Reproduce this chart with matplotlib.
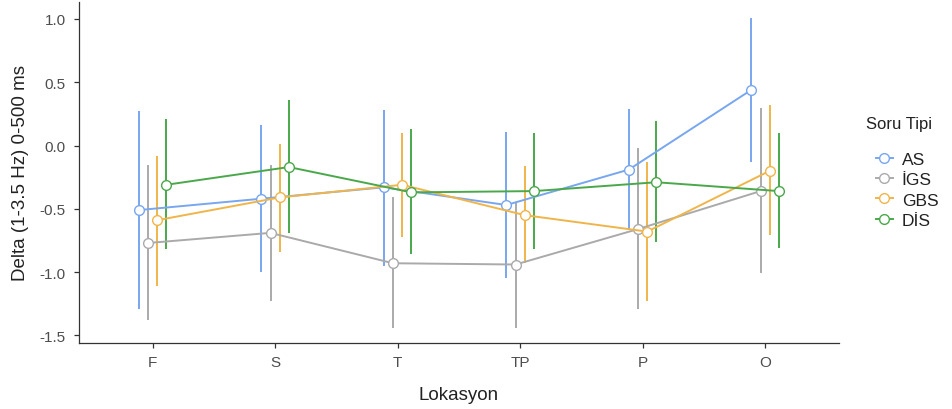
import numpy as np
import matplotlib.pyplot as plt

plt.rcParams['font.family'] = ['Liberation Sans', 'DejaVu Sans']

# lokasyonlar ve soru tipleri
lokasyon = ['F', 'S', 'T', 'TP', 'P', 'O']
tipler = ['AS', 'İGS', 'GBS', 'DİS']
renkler = ['#78a6ef', '#aaaaaa', '#f0b54a', '#4aa84a']

# ortalamalar
as_mean = [-0.51, -0.42, -0.33, -0.47, -0.19, 0.44]
igs_mean = [-0.77, -0.69, -0.93, -0.94, -0.66, -0.36]
gbs_mean = [-0.59, -0.41, -0.31, -0.55, -0.68, -0.20]
dis_mean = [-0.31, -0.17, -0.37, -0.36, -0.29, -0.36]

# hata cubuklari (alt / ust)
as_lo = [-1.29, -1.00, -0.95, -1.05, -0.66, -0.13]
as_hi = [0.27, 0.16, 0.28, 0.11, 0.29, 1.01]
igs_lo = [-1.38, -1.23, -1.44, -1.44, -1.29, -1.01]
igs_hi = [-0.15, -0.15, -0.41, -0.45, -0.02, 0.30]
gbs_lo = [-1.11, -0.84, -0.72, -0.93, -1.23, -0.71]
gbs_hi = [-0.08, 0.01, 0.10, -0.16, -0.13, 0.32]
dis_lo = [-0.82, -0.69, -0.86, -0.82, -0.76, -0.81]
dis_hi = [0.21, 0.36, 0.13, 0.10, 0.19, 0.10]

means = [as_mean, igs_mean, gbs_mean, dis_mean]
lows = [as_lo, igs_lo, gbs_lo, dis_lo]
highs = [as_hi, igs_hi, gbs_hi, dis_hi]

fig = plt.figure(figsize=(9.53, 4.10), dpi=100)
ax = fig.add_axes([0.083, 0.161, 0.797, 0.832])

x = np.arange(1, len(lokasyon) + 1)
dodge = [-0.1125, -0.0375, 0.0375, 0.1125]

for i in range(4):
    xs = x + dodge[i]
    m = np.array(means[i])
    lo = m - np.array(lows[i])
    hi = np.array(highs[i]) - m
    ax.errorbar(xs, m, yerr=[lo, hi], fmt='none', ecolor=renkler[i],
                elinewidth=1.4, capsize=0, zorder=2)
    ax.plot(xs, m, color=renkler[i], lw=1.4, marker='o', ms=7,
            mfc='white', mec=renkler[i], mew=1.0, label=tipler[i], zorder=3)

ax.set_xlim(0.4, 6.6)
ax.set_ylim(-1.56, 1.135)
ax.set_xticks(x)
ax.set_xticklabels(lokasyon)
ax.set_yticks([-1.5, -1.0, -0.5, 0.0, 0.5, 1.0])
ax.set_yticklabels(['-1.5', '-1.0', '-0.5', '0.0', '0.5', '1.0'])

for s in ['top', 'right']:
    ax.spines[s].set_visible(False)
for s in ['left', 'bottom']:
    ax.spines[s].set_color('#333333')
    ax.spines[s].set_linewidth(0.9)
ax.tick_params(colors='#333333', labelcolor='#4d4d4d', labelsize=11, length=3.6, width=0.9)
ax.tick_params(axis='y', pad=6)
ax.tick_params(axis='x', pad=5)

ax.set_xlabel('Lokasyon', fontsize=13.5, color='#222222', labelpad=12)
ax.set_ylabel('Delta (1-3.5 Hz) 0-500 ms', fontsize=13.5, color='#222222', labelpad=8)

# legend basligi ayri, bosluk icin
fig.text(866 / 953, 1 - 125 / 410, 'Soru Tipi', fontsize=12, color='#222222', va='center')
leg = fig.legend(handles=ax.get_lines(), loc='upper left',
                 bbox_to_anchor=(867 / 953, 1 - 144 / 410), borderpad=0,
                 frameon=False, fontsize=12.5, handlelength=1.0,
                 handletextpad=0.5, labelspacing=0.3)
for t in leg.get_texts():
    t.set_color('#222222')

fig.savefig('out.png', dpi=100)
